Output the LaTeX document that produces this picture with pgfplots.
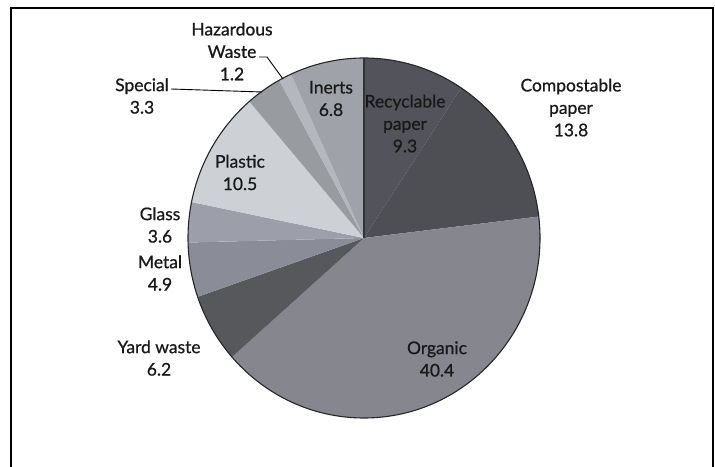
\documentclass[border=0pt]{standalone}
\usepackage{fontspec}
\setmainfont{Lato}
\newfontfamily\lblfont{Lato}[FakeBold=0.8]
\usepackage{pgfplots}
\usepackage{pgfplotstable}
\pgfplotsset{compat=1.18}

\pgfplotstableread{
name value
Recyclable 9.3
Compostable 13.8
Organic 40.4
Yard 6.2
Metal 4.9
Glass 3.6
Plastic 10.5
Special 3.3
Hazardous 1.2
Inerts 6.8
}\piedata

\definecolor{c0}{HTML}{53545B}
\definecolor{c1}{HTML}{4E4F55}
\definecolor{c2}{HTML}{85868E}
\definecolor{c3}{HTML}{56585C}
\definecolor{c4}{HTML}{8A8C98}
\definecolor{c5}{HTML}{9C9FAA}
\definecolor{c6}{HTML}{CDD0D5}
\definecolor{c7}{HTML}{989BA0}
\definecolor{c8}{HTML}{B4B7BC}
\definecolor{c9}{HTML}{A0A2AA}

\tikzset{lbl/.style={font=\lblfont\fontsize{17.5}{22.5}\selectfont, align=center, text=black!90, inner sep=0pt}}

\begin{document}
\begin{tikzpicture}
\xdef\cumang{90}
\pgfplotstablegetrowsof{\piedata}
\pgfmathtruncatemacro\nrows{\pgfplotsretval-1}
\foreach \i in {0,...,\nrows}{
  \pgfplotstablegetelem{\i}{value}\of\piedata
  \pgfmathsetmacro\endang{\cumang-3.6*\pgfplotsretval}
  \expandafter\xdef\csname sa\i\endcsname{\cumang}
  \expandafter\xdef\csname ea\i\endcsname{\endang}
  \xdef\cumang{\endang}
}
\begin{axis}[
  width=715bp, height=467bp, scale only axis,
  xmin=0, xmax=715, ymin=0, ymax=467,
  enlargelimits=false, hide axis, clip=false,
]
\pgfplotsinvokeforeach{0,...,9}{
  \fill[fill=c#1] (axis cs:364,229) -- (axis cs:{364+176*cos(\csname sa#1\endcsname)},{229+180*sin(\csname sa#1\endcsname)})
     arc[start angle=\csname sa#1\endcsname, end angle=\csname ea#1\endcsname, x radius=176bp, y radius=180bp] -- cycle;
}
\draw[black!85, line width=1.1bp] (axis cs:364,229) ellipse [x radius=176bp, y radius=180bp];
\draw[black!80, line width=1.2bp] (axis cs:364,229) -- (axis cs:364,409);
% leader lines
\draw[black, line width=0.9bp] (axis cs:171,378) -- (axis cs:262,375);
\draw[black, line width=0.9bp] (axis cs:259,410) -- (axis cs:267,410) -- (axis cs:283,388);
% labels
\node[lbl] at (axis cs:232,415.5) {Hazardous\\Waste\\1.2};
\node[lbl] at (axis cs:142,371) {Special\\3.3};
\node[lbl] at (axis cs:331,368.5) {Inerts\\6.8};
\node[lbl] at (axis cs:405,343.5) {Recyclable\\paper\\9.3};
\node[lbl] at (axis cs:571,359.5) {Compostable\\paper\\13.8};
\node[lbl] at (axis cs:240,294.5) {Plastic\\10.5};
\node[lbl] at (axis cs:160,242) {Glass\\3.6};
\node[lbl] at (axis cs:160,194) {Metal\\4.9};
\node[lbl] at (axis cs:159,109) {Yard waste\\6.2};
\node[lbl] at (axis cs:437,108) {Organic\\40.4};
% frame
\draw[black, line width=2bp] (axis cs:11,-5) -- (axis cs:11,459) -- (axis cs:713,459) -- (axis cs:713,-5);
\coordinate (bl) at (axis cs:0,0);
\coordinate (tr) at (axis cs:715,467);
\end{axis}
\pgfresetboundingbox
\path[use as bounding box] (bl) rectangle (tr);
\end{tikzpicture}
\end{document}
